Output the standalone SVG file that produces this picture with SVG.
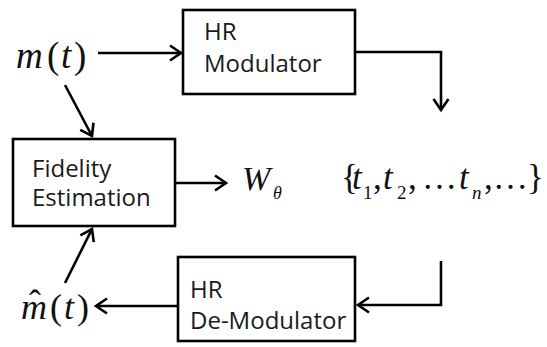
<svg xmlns="http://www.w3.org/2000/svg" width="547" height="347" viewBox="0 0 547 347">
<defs>
<style>
.box{fill:#fff;stroke:#000;stroke-width:2.6}
.lbl{font-family:"Open Sans","Liberation Sans",sans-serif;font-size:24px;fill:#1a1a1a}
.math{font-family:"Liberation Serif","Times New Roman",serif;fill:#111}
.it{font-style:italic}
.conn{fill:none;stroke:#000;stroke-width:2.6;marker-end:url(#arr)}
</style>
<marker id="arr" markerUnits="userSpaceOnUse" viewBox="-14 -10 16 20" refX="0" refY="0" markerWidth="16" markerHeight="20" orient="auto" overflow="visible">
<path d="M-11,-7.5 L0,0 L-11,7.5" fill="none" stroke="#000" stroke-width="2.6" stroke-linejoin="miter"/>
</marker>
</defs>
<rect width="547" height="347" fill="#fff"/>
<g id="connectors">
<path class="conn" d="M98,53 H181"/>
<path class="conn" d="M65,85 L92,136"/>
<path class="conn" d="M355,52 H441 V110"/>
<path class="conn" d="M175,183 H226"/>
<path class="conn" d="M441,261 V305 H358"/>
<path class="conn" d="M178,306 H96"/>
<path class="conn" d="M65,283 L92,229"/>
</g>
<g id="hr-modulator">
<rect class="box" x="183" y="10" width="172" height="84"/>
<text class="lbl" x="204" y="40">HR</text>
<text class="lbl" x="204" y="72">Modulator</text>
</g>
<g id="fidelity-estimation">
<rect class="box" x="13" y="139" width="162" height="87"/>
<text class="lbl" x="32" y="177">Fidelity</text>
<text class="lbl" x="32" y="206">Estimation</text>
</g>
<g id="hr-demodulator">
<rect class="box" x="178" y="257" width="177" height="84"/>
<text class="lbl" x="190" y="298">HR</text>
<text class="lbl" x="190" y="329">De-Modulator</text>
</g>
<g id="m-t">
<text class="math" font-size="37" y="68"><tspan class="it" x="16">m</tspan><tspan x="47">(</tspan><tspan class="it" x="61">t</tspan><tspan x="74">)</tspan></text>
</g>
<g id="m-hat-t">
<text class="math" font-size="36" y="319"><tspan class="it" x="21">m</tspan><tspan x="50">(</tspan><tspan class="it" x="64">t</tspan><tspan x="77">)</tspan></text>
<text class="math" font-size="36" x="29" y="315">ˆ</text>
</g>
<g id="w-theta">
<text class="math it" font-size="34" x="242" y="190">W</text>
<text class="math it" font-size="18" x="273" y="199">θ</text>
</g>
<g id="t-set">
<text class="math" font-size="35" y="189"><tspan x="341">{</tspan><tspan class="it" x="352">t</tspan><tspan font-size="19" x="363" dy="10">1</tspan><tspan x="373" dy="-10">,</tspan><tspan class="it" x="383">t</tspan><tspan font-size="19" x="397" dy="10">2</tspan><tspan x="408" dy="-10">,</tspan><tspan x="422">…</tspan><tspan class="it" x="459">t</tspan><tspan class="it" font-size="19" x="472" dy="10">n</tspan><tspan x="484" dy="-10">,</tspan><tspan x="493">…</tspan><tspan x="527">}</tspan></text>
</g>
</svg>
